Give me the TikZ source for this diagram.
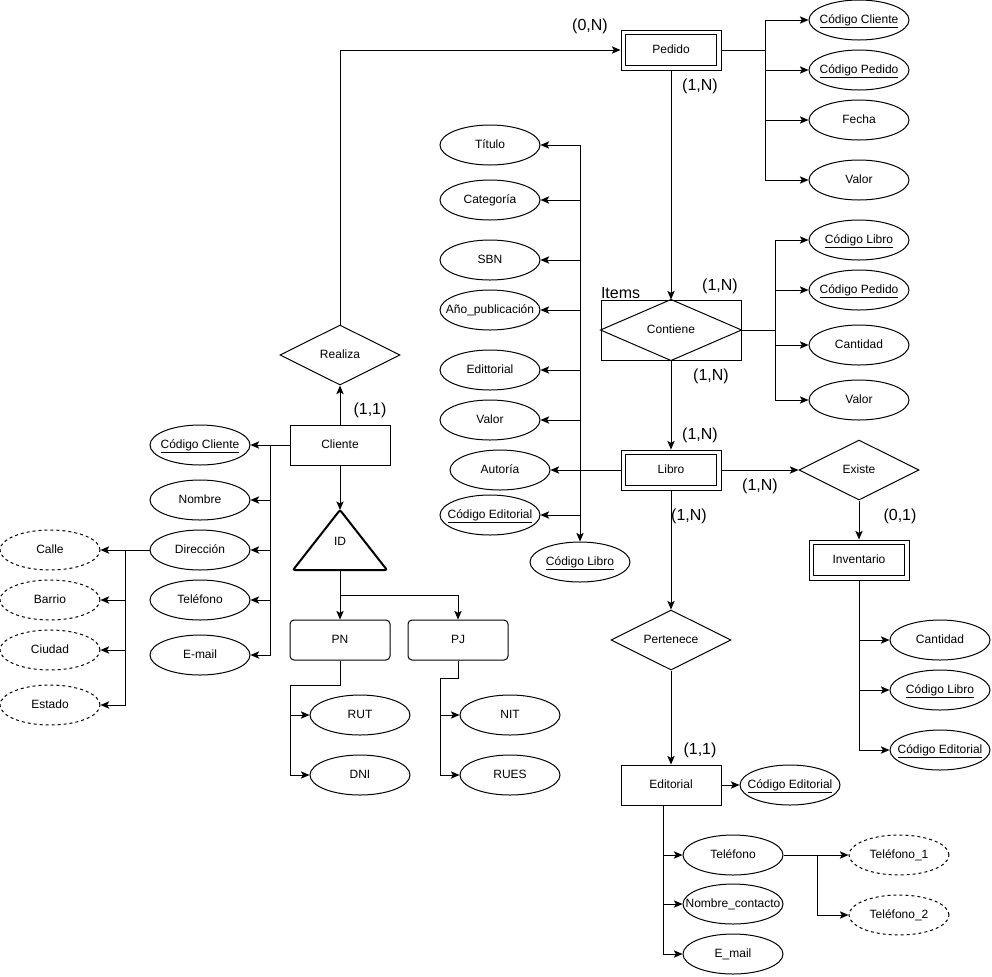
\documentclass[tikz,border=0pt]{standalone}
\usepackage{fontspec}
\setmainfont{Liberation Sans}
\usetikzlibrary{shapes.geometric,arrows.meta,calc}
\newcommand{\zb}[1]{\makebox[0pt]{#1}}
\begin{document}
\begin{tikzpicture}[x=0.75pt,y=-0.75pt, line width=0.75pt,
 every node/.style={font=\fontsize{9}{11}\selectfont},
 ent/.style={draw, rectangle, minimum width=75pt, minimum height=30pt, inner sep=0pt, text height=6.5pt, text depth=2pt},
 rent/.style={ent, rounded corners=3pt},
 attr/.style={draw, ellipse, minimum width=75pt, minimum height=30pt, inner sep=0pt, text height=6.5pt, text depth=2pt},
 mattr/.style={attr, dash pattern=on 2.25pt off 2.25pt},
 rel/.style={draw, diamond, minimum width=90pt, minimum height=45pt, inner sep=0pt, text height=6.5pt, text depth=2pt},
 card/.style={font=\fontsize{12}{14}\selectfont, inner sep=0pt},
 arr/.style={-{Stealth[length=6.5pt,width=5.5pt,inset=1.5pt]}}]
\useasboundingbox (0,0) rectangle (992,976);

% ---------- Pedido ----------
\node[ent] (ped) at (671,50) {\zb{Pedido}};
\node[attr] (pcc) at (859,20) {\zb{\underline{Código Cliente}}};
\node[attr] (pcp) at (859,70) {\zb{\underline{Código Pedido}}};
\node[attr] (pfe) at (859,120) {\zb{Fecha}};
\node[attr] (pva) at (859,180) {\zb{Valor}};
\coordinate (bP) at (765,50);
\foreach \t in {pcc,pcp,pfe,pva} \draw[arr] (ped.east) -- (bP) |- (\t.west);

% ---------- Realiza / Cliente ----------
\node[rel] (rea) at (340,355) {\zb{Realiza}};
\node[ent] (cli) at (340,445) {\zb{Cliente}};
\draw[arr] (rea.north) |- (ped.west);
\draw[arr] (cli.north) -- (rea.south);

\node[attr] (ccc) at (200,445) {\zb{\underline{Código Cliente}}};
\node[attr] (cno) at (200,500) {\zb{Nombre}};
\node[attr] (cdi) at (200,550) {\zb{Dirección}};
\node[attr] (cte) at (200,600) {\zb{Teléfono}};
\node[attr] (cem) at (200,655) {\zb{E-mail}};
\coordinate (bC) at (270,445);
\foreach \t in {ccc,cno,cdi,cte,cem} \draw[arr] (cli.west) -- (bC) |- (\t.east);

\node[mattr] (dca) at (50,550) {\zb{Calle}};
\node[mattr] (dba) at (50,600) {\zb{Barrio}};
\node[mattr] (dci) at (50,650) {\zb{Ciudad}};
\node[mattr] (des) at (50,705) {\zb{Estado}};
\coordinate (bD) at (125,550);
\foreach \t in {dca,dba,dci,des} \draw[arr] (cdi.west) -- (bD) |- (\t.east);

% ---------- ID ----------
\coordinate (idT) at (340,510);
\coordinate (idB) at (340,570);
\draw[line width=1.5pt, rounded corners=1.5pt] (idT) -- (387,570) -- (293,570) -- cycle;
\node (id) at (340,541) {ID};
\draw[arr] (cli.south) -- (idT);
\node[rent] (pn) at (340,640) {\zb{PN}};
\node[rent] (pj) at (458,640) {\zb{PJ}};
\coordinate (idJ) at (340,595);
\draw[arr] (idB) -- (pn.north);
\draw[arr] (idJ) -| (pj.north);

\node[attr] (rut) at (360,715) {\zb{RUT}};
\node[attr] (dni) at (360,775) {\zb{DNI}};
\node[attr] (nit) at (510,715) {\zb{NIT}};
\node[attr] (rue) at (510,775) {\zb{RUES}};
\coordinate (pnA) at (340,685); \coordinate (pnB) at (290,685);
\draw[arr] (pn.south) -- (pnA) -- (pnB) |- (rut.west);
\draw[arr] (pnB) |- (dni.west);
\coordinate (pjA) at (458,678); \coordinate (pjB) at (440,678);
\draw[arr] (pj.south) -- (pjA) -- (pjB) |- (nit.west);
\draw[arr] (pjB) |- (rue.west);

% ---------- Contiene ----------
\node[draw, minimum width=105pt, minimum height=45pt, inner sep=0pt, text height=6.5pt, text depth=2pt] (items) at (671,330) {\zb{Contiene}};
\draw (items.north) -- (items.east) -- (items.south) -- (items.west) -- cycle;
\node[card, anchor=south west] (itl) at (items.north west) {Items};
\draw[arr] (ped.south) -- (items.north);
\node[attr] (icl) at (859,240) {\zb{\underline{Código Libro}}};
\node[attr] (icp) at (859,290) {\zb{\underline{Código Pedido}}};
\node[attr] (ica) at (859,345) {\zb{Cantidad}};
\node[attr] (iva) at (859,400) {\zb{Valor}};
\coordinate (bI) at (775,330);
\foreach \t in {icl,icp,ica,iva} \draw[arr] (items.east) -- (bI) |- (\t.west);

% ---------- Libro ----------
\node[ent] (lib) at (671,470) {\zb{Libro}};
\draw[arr] (items.south) -- (lib.north);
\node[attr] (ltit) at (490,145) {\zb{Título}};
\node[attr] (lcat) at (490,200) {\zb{Categoría}};
\node[attr] (lsbn) at (490,260) {\zb{SBN}};
\node[attr] (lano) at (490,310) {\zb{Año\_publicación}};
\node[attr] (ledi) at (490,370) {\zb{Edittorial}};
\node[attr] (lval) at (490,420) {\zb{Valor}};
\node[attr] (laut) at (500,470) {\zb{Autoría}};
\node[attr] (lcod) at (490,515) {\zb{\underline{Código Editorial}}};
\node[attr] (lcl) at (580,562) {\zb{\underline{Código Libro}}};
\coordinate (bL) at (580,470);
\foreach \t in {ltit,lcat,lsbn,lano,ledi,lval,lcod} \draw[arr] (lib.west) -- (bL) |- (\t.east);
\draw[arr] (lib.west) -- (laut.east);
\draw[arr] (bL) -- (lcl.north);

% ---------- Existe / Inventario ----------
\node[rel] (exi) at (859,470) {\zb{Existe}};
\draw[arr] (lib.east) -- (exi.west);
\node[ent] (inv) at (859,560) {\zb{Inventario}};
\draw[arr] (exi.south) -- (inv.north);
\node[attr] (nca) at (940,640) {\zb{Cantidad}};
\node[attr] (ncl) at (940,690) {\zb{\underline{Código Libro}}};
\node[attr] (nce) at (940,750) {\zb{\underline{Código Editorial}}};
\foreach \t in {nca,ncl,nce} \draw[arr] (inv.south) |- (\t.west);

% double borders
\foreach \n in {ped,lib,inv}
  \draw ([shift={(3.5pt,-3.5pt)}]\n.north west) rectangle ([shift={(-3.5pt,3.5pt)}]\n.south east);

% ---------- Pertenece / Editorial ----------
\node[rel] (per) at (671,640) {\zb{Pertenece}};
\draw[arr] (lib.south) -- (per.north);
\node[ent] (edt) at (671,785) {\zb{Editorial}};
\draw[arr] (per.south) -- (edt.north);
\node[attr] (ecod) at (790,785) {\zb{\underline{Código Editorial}}};
\draw[arr] (edt.east) -- (ecod.west);
\node[attr] (etel) at (733,855) {\zb{Teléfono}};
\node[attr] (enom) at (733,904) {\zb{Nombre\_contacto}};
\node[attr] (eema) at (733,954) {\zb{E\_mail}};
\coordinate (eB) at ([xshift=-6pt]edt.south);
\foreach \t in {etel,enom,eema} \draw[arr] (eB) |- (\t.west);
\node[mattr] (tel1) at (899,855) {\zb{Teléfono\_1}};
\node[mattr] (tel2) at (899,915) {\zb{Teléfono\_2}};
\coordinate (bT) at (817,855);
\draw[arr] (etel.east) -- (tel1.west);
\draw[arr] (bT) |- (tel2.west);

% ---------- cardinalities ----------
\node[card] (k1) at (590,26) {(0,N)};
\node[card] (k2) at (700,86) {(1,N)};
\node[card] (k3) at (720,286) {(1,N)};
\node[card] (k4) at (711,376) {(1,N)};
\node[card] (k5) at (700,435) {(1,N)};
\node[card] (k6) at (760,486) {(1,N)};
\node[card] (k7) at (689,516) {(1,N)};
\node[card] (k8) at (900,516) {(0,1)};
\node[card] (k9) at (370,410) {(1,1)};
\node[card] (k10) at (700,750) {(1,1)};
\end{tikzpicture}
\end{document}
